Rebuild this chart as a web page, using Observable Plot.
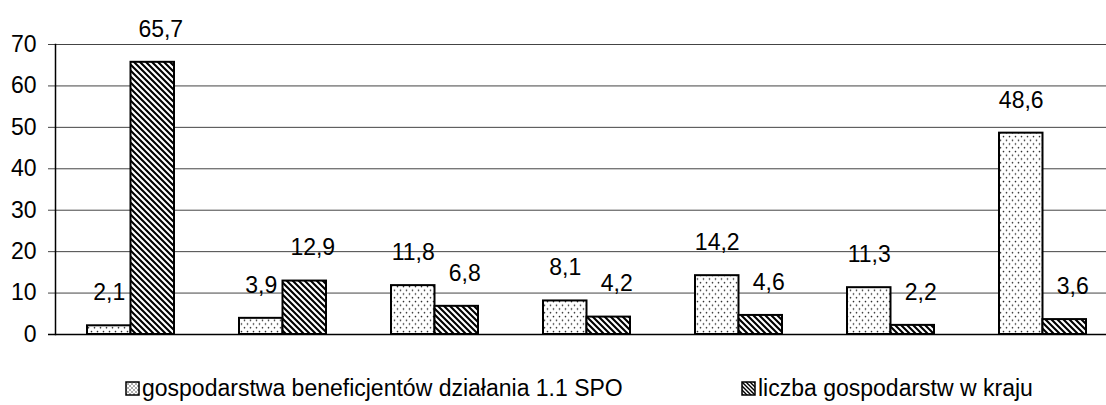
<!DOCTYPE html>
<html><head><meta charset="utf-8">
<script src="https://cdn.jsdelivr.net/npm/d3@7"></script>
<script src="https://cdn.jsdelivr.net/npm/@observablehq/plot@0.6"></script>
<style>
html,body{margin:0;padding:0;background:#fff;overflow:hidden;width:1106px;height:405px}
#chart svg{overflow:hidden;display:block;font-family:"Liberation Sans",Arial,sans-serif}
#legend{position:relative;width:1106px;height:45px;font-family:"Liberation Sans",Arial,sans-serif;font-size:23px;color:#000}
.item{position:absolute;top:15px;display:flex;align-items:center;line-height:26px;white-space:nowrap}
.item svg{display:block;margin-right:2px}
</style></head><body>
<div id="chart"></div><div id="legend"></div>
<script>
const groups = ["1", "2", "3", "4", "5", "6", "7"];
const seriesNames = ["gospodarstwa beneficjentów działania 1.1 SPO", "liczba gospodarstw w kraju"];
const beneficiaries = [2.1, 3.9, 11.8, 8.1, 14.2, 11.3, 48.6];
const country = [65.7, 12.9, 6.8, 4.2, 4.6, 2.2, 3.6];
const yTicks = [0, 10, 20, 30, 40, 50, 60, 70];

const dataA = groups.map((g, i) => ({group: g, series: seriesNames[0], value: beneficiaries[i]}));
const dataB = groups.map((g, i) => ({group: g, series: seriesNames[1], value: country[i]}));
const fmt = v => v.toFixed(1).replace(".", ",");
const FONT = 23;

const xOpts = {type: "band", domain: groups, range: [55, 1119], paddingInner: 0.4276, paddingOuter: 0.2138, axis: null, label: null};
const bw = Plot.scale({x: xOpts}).bandwidth;
const half = bw / 2;

const chart = Plot.plot({
  width: 1106,
  height: 360,
  marginLeft: 55,
  marginRight: 0,
  marginTop: 44,
  marginBottom: 26,
  style: {fontFamily: '"Liberation Sans", Arial, sans-serif', fontSize: FONT + "px", background: "#fff", color: "#000"},
  x: xOpts,
  y: {domain: [0, 70], axis: null, label: null},
  marks: [
    Plot.ruleY(yTicks.filter(t => t > 0), {y: d => d, stroke: "#444", strokeWidth: 1, insetLeft: -7}),
    Plot.text(yTicks, {y: d => d, text: d => String(d), frameAnchor: "left", textAnchor: "end", dx: -19, fontSize: FONT, fill: "#000"}),
    Plot.barY(dataA, {x: "group", y: "value", insetRight: half, fill: "url(#dots)", stroke: "#000", strokeWidth: 2}),
    Plot.barY(dataB, {x: "group", y: "value", insetLeft: half, fill: "url(#hatch)", stroke: "#000", strokeWidth: 2}),
    Plot.ruleY([0], {stroke: "#000", strokeWidth: 1.5, insetLeft: -7}),
    Plot.frame({anchor: "left", stroke: "#000", strokeWidth: 1.5}),
    Plot.text(dataA, {x: "group", y: "value", text: d => fmt(d.value), dx: -half / 2, dy: -33, fontSize: FONT, fill: "#000"}),
    Plot.text(dataB, {x: "group", y: "value", text: d => fmt(d.value), dx: half / 2 + 8, dy: -33, fontSize: FONT, fill: "#000"})
  ]
});

function addDefs(svgSel) {
  const defs = svgSel.append("defs");
  const dots = defs.append("pattern").attr("id", "dots").attr("patternUnits", "userSpaceOnUse").attr("width", 6).attr("height", 7.5);
  dots.append("rect").attr("width", 6).attr("height", 7.5).attr("fill", "#fff");
  dots.append("circle").attr("cx", 1.5).attr("cy", 1.5).attr("r", 0.8).attr("fill", "#222");
  dots.append("circle").attr("cx", 4.5).attr("cy", 5.25).attr("r", 0.8).attr("fill", "#222");
  const hatch = defs.append("pattern").attr("id", "hatch").attr("patternUnits", "userSpaceOnUse").attr("width", 6).attr("height", 6);
  hatch.append("rect").attr("width", 6).attr("height", 6).attr("fill", "#fff");
  hatch.append("path").attr("d", "M-1,-1L7,7M-1,5L1,7M5,-1L7,1").attr("stroke", "#000").attr("stroke-width", 2.1).attr("fill", "none");
}
addDefs(d3.select(chart));
document.getElementById("chart").appendChild(chart);

const legend = d3.select("#legend");
const legendItems = [
  {name: seriesNames[0], fill: "url(#ldots)", left: 125},
  {name: seriesNames[1], fill: "url(#lhatch)", left: 741}
];
legendItems.forEach((it, i) => {
  const item = legend.append("div").attr("class", "item").style("left", it.left + "px");
  const s = item.append("svg").attr("width", 15).attr("height", 15);
  const defs = s.append("defs");
  if (i === 0) {
    const p = defs.append("pattern").attr("id", "ldots").attr("patternUnits", "userSpaceOnUse").attr("width", 4).attr("height", 4);
    p.append("rect").attr("width", 4).attr("height", 4).attr("fill", "#fff");
    p.append("circle").attr("cx", 1).attr("cy", 1).attr("r", 0.7).attr("fill", "#222");
    p.append("circle").attr("cx", 3).attr("cy", 3).attr("r", 0.7).attr("fill", "#222");
  } else {
    const p = defs.append("pattern").attr("id", "lhatch").attr("patternUnits", "userSpaceOnUse").attr("width", 4).attr("height", 4);
    p.append("rect").attr("width", 4).attr("height", 4).attr("fill", "#fff");
    p.append("path").attr("d", "M-1,-1L5,5M-1,3L1,5M3,-1L5,1").attr("stroke", "#000").attr("stroke-width", 1.4);
  }
  s.append("rect").attr("x", 1).attr("y", 1).attr("width", 13).attr("height", 13).attr("fill", it.fill).attr("stroke", "#000").attr("stroke-width", 1.5);
  item.append("span").text(it.name);
});
</script>
</body></html>
